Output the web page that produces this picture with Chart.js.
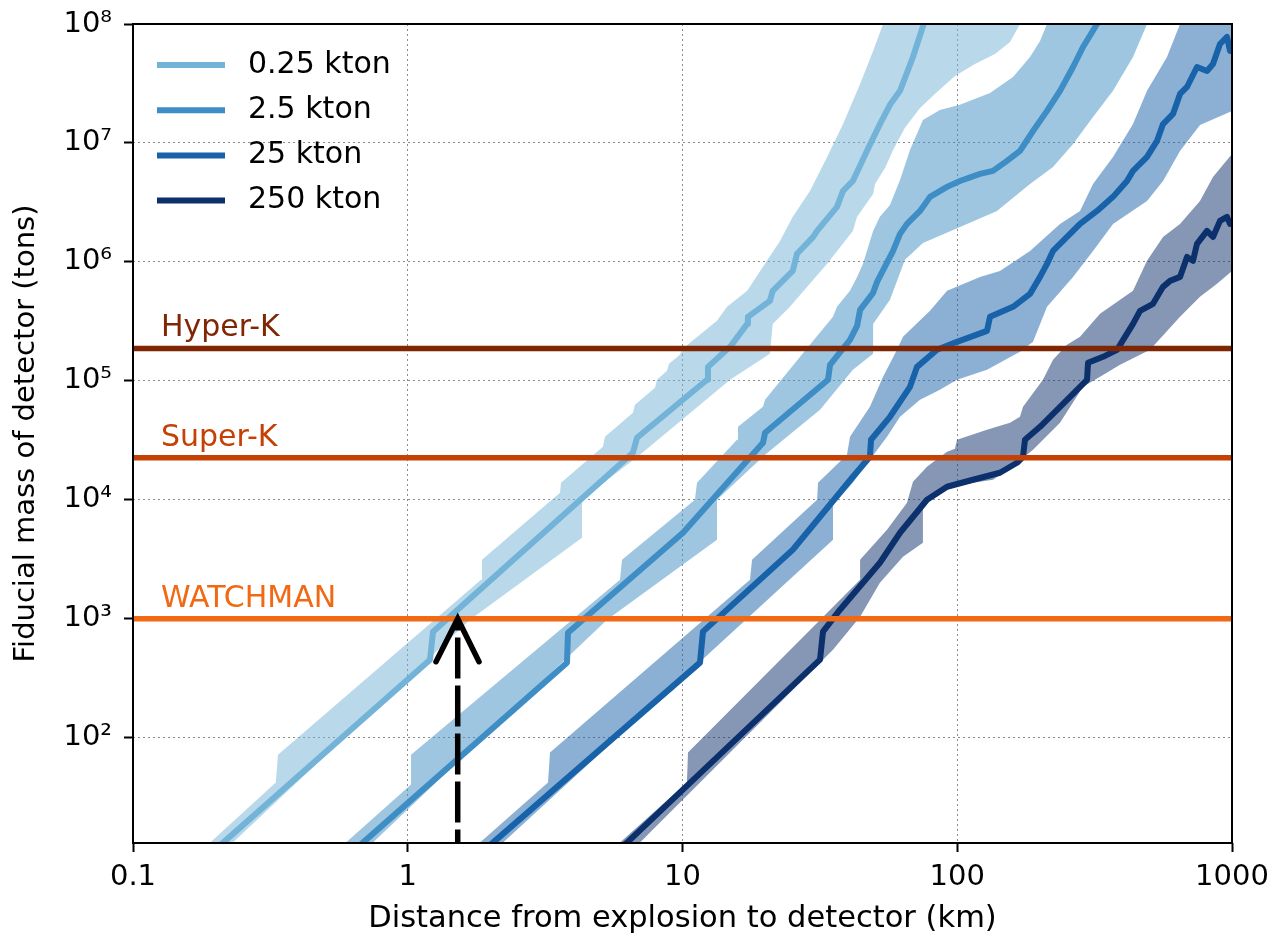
<!DOCTYPE html>
<html><head><meta charset="utf-8">
<script src="https://cdn.jsdelivr.net/npm/chart.js@4.4.1/dist/chart.umd.min.js"></script>
<style>html,body{margin:0;padding:0;background:#fff}canvas{display:block}</style>
</head><body>
<canvas id="c" width="1272" height="937"></canvas>
<script>
// ---------- data ----------
const seriesNames = ['0.25 kton', '2.5 kton', '25 kton', '250 kton'];

// 0.25 kton
const s1LineX = [0.181,0.213,1.205,1.236,6.60,6.83,12.28,12.38,14.9,17.2,17.3,20.8,21.3,25.2,26.1,29.9,30.9,36.5,38.4,41.7,46.9,52.3,56.9,61.9,69.0,76.3,79.6];
const s1LineY = [9.44,13.1,452,778,24800,33200,102000,131000,193000,301000,345000,470000,571000,840000,1.17e6,1.62e6,1.82e6,2.90e6,3.95e6,4.79e6,8.57e6,1.44e7,2.09e7,2.74e7,5.28e7,1.08e8,1.36e8];
const s1HiX = [0.164,0.191,0.331,0.337,1.848,1.863,3.583,3.613,5.135,5.222,6.60,6.716,7.942,8.077,8.782,8.930,9.79,9.96,10.65,13.35,14.52,17.2,19.63,22.64,25.2,29.1,33.6,38.4,44.3,49.4,53.7,55.97];
const s1HiY = [9.44,13.1,41.9,71.9,2127,3132,11450,13900,27890,33840,53830,62850,87350,102000,121300,139000,165400,182200,208600,319300,418500,571000,907800,1.50e6,2.39e6,3.95e6,7.63e6,1.44e7,3.13e7,5.93e7,1e8,1.31e8];
const s1LoX = [0.199,0.231,1.685,4.308,4.308,7.00,14.9,20.8,21.3,24.6,33.6,41.7,43.2,49.4,50.2,54.6,58.4,64.5,73.2,84.4,98.1,116.0,137.2,155.6,169.2,176.4];
const s1LoY = [9.44,13.1,981,4795,10000,23890,102000,168600,301000,418500,962000,1.82e6,2.39e6,3.73e6,4.52e6,6.17e6,8.73e6,1.34e7,1.97e7,2.68e7,3.66e7,4.61e7,5.60e7,7.06e7,1e8,1.31e8];

// 2.5 kton
const s2LineX = [0.586,0.687,3.798,3.830,10.04,19.63,19.97,33.86,34.43,40.70,43.2,44.3,49.4,51.06,58.4,61.9,65.64,73.2,79.6,91.8,102.3,121.0,134.9,151.7,169.2,188.7,212.2,236.6,263.9,286.9,322.7,336.5];
const s2LineY = [9.44,13.1,427,763,5280,30130,36560,102000,136300,221000,289900,395000,548900,679000,1.237e6,1.72e6,2.086e6,2.683e6,3.52e6,4.27e6,4.79e6,5.49e6,5.82e6,7.06e6,8.57e6,1.26e7,1.86e7,2.74e7,4.35e7,6.41e7,1e8,1.19e8];
const s2HiX = [0.508,0.596,1.028,1.028,5.923,6.024,11.10,11.29,15.79,15.92,19.63,19.97,29.9,35.30,36.5,40.7,43.2,45.39,49.4,52.3,56.9,61.9,67.3,75.0,86.5,102.3,131.6,159.6,184.0,200.1,212.2,221.3];
const s2HiY = [9.44,13.1,40.3,71.9,2127,3132,10000,13900,31940,41060,60460,69230,216800,345000,418500,571000,747800,962000,1.82e6,2.39e6,3.01e6,4.89e6,8.73e6,1.56e7,1.89e7,2.09e7,2.63e7,3.59e7,5.28e7,7.20e7,1e8,1.31e8];
const s2LoX = [0.637,0.747,5.311,13.35,13.35,19.97,31.66,41.7,49.4,49.4,56.9,64.5,75.0,104.9,139.5,184.0,223.1,263.9,312.0,368.9,436.2,490.6,502.9];
const s2LoY = [9.44,13.1,981,4612,10000,23890,57050,123700,168600,301000,479300,1.04e6,1.44e6,2.01e6,2.683e6,4.52e6,6.28e6,9.81e6,1.654e7,2.74e7,5.28e7,1e8,1.31e8];

// 25 kton
const s3LineX = [1.742,2.043,11.58,11.87,25.2,31.66,41.7,48.1,48.55,56.9,67.3,71.4,84.4,99.8,128.3,131.6,159.6,184.0,200.1,212.2,223.1,250.9,279.8,322.7,368.9,414.8,436.2,490.6,533.3,561.0,610.0,646.9,685.9,745.7,811.0,852.7,904.3,958.9,983.4,1017];
const s3LineY = [9.44,13.1,427,778,3799,7196,15610,22980,31940,49830,89030,131000,182200,212700,263200,345000,418500,538400,747800,962000,1.237e6,1.62e6,2.086e6,2.683e6,3.52e6,4.79e6,5.82e6,7.63e6,1.04e7,1.44e7,1.752e7,2.58e7,2.955e7,4.35e7,4.03e7,4.61e7,6.79e7,7.78e7,5.93e7,6.05e7];
const s3HiX = [1.562,1.832,3.240,3.294,17.61,17.91,30.9,31.13,39.69,40.7,48.1,53.7,60.36,63.46,79.6,91.8,121.0,143.0,184.0,236.6,279.8,312.0,368.9,436.2,490.6,580.0,646.9,674.5];
const s3HiY = [9.44,13.1,41.9,74.8,2127,3132,10000,13900,23890,33840,60460,108000,182200,234200,387500,571000,747800,840000,1.237e6,2.086e6,2.683e6,4.52e6,7.63e6,1.44e7,2.74e7,5.28e7,1e8,1.31e8];
const s3LoX = [1.895,2.222,35.30,35.30,41.7,48.1,55.5,61.9,73.2,86.5,99.8,128.3,169.2,188.7,212.2,263.9,312.0,368.9,490.6,561.0,646.9,764.7,1000,1163,1163];
const s3LoY = [9.44,13.1,4612,9078,13900,21680,33840,49830,69230,84030,102000,123700,175200,212700,418500,747800,1.237e6,2.086e6,3.255e6,4.79e6,8.57e6,1.417e7,1.86e7,2.09e7,1.44e8];

// 250 kton
const s4LineX = [5.356,6.281,31.66,32.46,37.43,52.3,61.9,77.6,91.8,114.1,143.0,165.0,173.5,176.4,200.1,250.9,296.7,299.2,339.3,381.5,436.2,462.6,515.8,561.0,594.9,646.9,685.9,721.1,745.7,811.0,852.7,904.3,958.9,983.4,1034];
const s4LineY = [9.44,13.1,452,778,1190,2955,5280,10000,12860,14730,16860,20460,22980,31940,41060,69230,102000,141700,159100,182200,301000,387500,443700,616600,692200,747800,1.10e6,1.02e6,1.417e6,1.82e6,1.62e6,2.21e6,2.39e6,2.086e6,2.17e6];
const s4HiX = [5.050,5.923,10.38,10.47,44.3,44.3,55.5,65.64,69.0,77.6,91.8,98.1,99.8,128.3,155.6,169.2,173.5,205.1,223.1,250.9,279.8,330.9,436.2,490.6,561.0,646.9,764.7,852.7,1000,1163];
const s4HiY = [9.44,13.1,41.9,74.8,2127,3132,5596,9436,14170,18940,25310,26830,31940,38750,44370,49830,60460,102000,150200,200700,234200,365600,571000,1.02e6,1.62e6,2.086e6,3.255e6,5.18e6,8.08e6,1.06e7];
const s4LoX = [5.973,7.00,35.30,44.3,52.3,63.46,75.0,75.0,88.74,114.1,134.9,165.0,188.7,236.6,286.9,330.9,391.3,502.9,646.9,764.7,881.9,1000,1163];
const s4LoY = [9.44,13.1,549,1039,2007,3319,4352,8735,12130,13900,14730,20460,26320,44370,89030,108000,136300,182200,345000,508000,653400,840000,1e6];

// reference detectors
const detectorNames = ['Hyper-K', 'Super-K', 'WATCHMAN'];
const detectorMasses = [187000, 22500, 1000];

// arrow (distance where WATCHMAN sees 0.25 kton)
const arrowDistance = 1.52;
const arrowFrom = 7.63;
const arrowTo = 1000;
const arrowHeadX = [1.267, 1.52, 1.817];
const arrowHeadY = [435, 1000, 435];

// axes
const xTicks = [0.1, 1, 10, 100, 1000];
const xTickLabels = ['0.1', '1', '10', '100', '1000'];
const yTicks = [1e2, 1e3, 1e4, 1e5, 1e6, 1e7, 1e8];
const yTickLabels = ['10\u00B2', '10\u00B3', '10\u2074', '10\u2075', '10\u2076', '10\u2077', '10\u2078'];

// ---------- styles ----------
const FONT = 'DejaVu Sans';
const lineColors = ['#74b3d8', '#3e8dc4', '#1862aa', '#0b306b'];
const bandColors = ['rgba(116,179,216,0.5)', 'rgba(62,141,196,0.5)', 'rgba(24,98,170,0.5)', 'rgba(11,48,107,0.5)'];
const detectorColors = ['#7f2704', '#c44103', '#f16913'];

function pts(xs, ys) { return xs.map((x, i) => ({x: x, y: ys[i]})); }
function poly(hx, hy, lx, ly) { return pts(hx, hy).concat(pts(lx, ly).reverse()); }

const series = [
  {line: [s1LineX, s1LineY], hi: [s1HiX, s1HiY], lo: [s1LoX, s1LoY]},
  {line: [s2LineX, s2LineY], hi: [s2HiX, s2HiY], lo: [s2LoX, s2LoY]},
  {line: [s3LineX, s3LineY], hi: [s3HiX, s3HiY], lo: [s3LoX, s3LoY]},
  {line: [s4LineX, s4LineY], hi: [s4HiX, s4HiY], lo: [s4LoX, s4LoY]}
];

const datasets = [];
series.forEach((s, i) => {
  datasets.push({
    label: seriesNames[i] + ' band',
    data: poly(s.hi[0], s.hi[1], s.lo[0], s.lo[1]),
    fill: 'shape', backgroundColor: bandColors[i],
    borderWidth: 0, borderColor: 'rgba(0,0,0,0)', pointRadius: 0, order: 6, clip: 0
  });
  datasets.push({
    label: seriesNames[i],
    data: pts(s.line[0], s.line[1]),
    fill: false, borderColor: lineColors[i], borderWidth: 6,
    borderJoinStyle: 'round', pointRadius: 0, order: 4, clip: 0
  });
});
detectorNames.forEach((n, i) => {
  datasets.push({
    label: n,
    data: [{x: xTicks[0], y: detectorMasses[i]}, {x: xTicks[xTicks.length - 1], y: detectorMasses[i]}],
    fill: false, borderColor: detectorColors[i], borderWidth: 5.5, pointRadius: 0, order: 2, clip: 0
  });
});
datasets.push({
  label: 'arrow',
  data: [{x: arrowDistance, y: arrowFrom}, {x: arrowDistance, y: arrowTo}],
  fill: false, borderColor: '#000', borderWidth: 5.5, borderDash: [41, 7], pointRadius: 0, order: 1, clip: 0
});
datasets.push({
  label: 'arrowhead',
  data: pts(arrowHeadX, arrowHeadY),
  fill: false, borderColor: '#000', borderWidth: 5.5, borderCapStyle: 'round', borderJoinStyle: 'miter',
  pointRadius: 0, order: 0, clip: 0
});

const overlay = {
  id: 'overlay',
  afterDraw(chart) {
    const {ctx, chartArea: a} = chart;
    ctx.save();
    // frame
    ctx.strokeStyle = '#000'; ctx.lineWidth = 2;
    ctx.strokeRect(a.left, a.top, a.right - a.left, a.bottom - a.top);
    // legend
    ctx.font = '30px "' + FONT + '"';
    ctx.textAlign = 'left';
    seriesNames.forEach((n, i) => {
      const y = a.top + 41 + i * 45.2;
      ctx.strokeStyle = lineColors[i]; ctx.lineWidth = 6; ctx.lineCap = 'butt';
      ctx.beginPath(); ctx.moveTo(a.left + 24, y); ctx.lineTo(a.left + 92, y); ctx.stroke();
      ctx.fillStyle = '#000'; ctx.textBaseline = 'middle';
      ctx.fillText(n, a.left + 115, y);
    });
    // detector labels
    ctx.textBaseline = 'alphabetic';
    detectorNames.forEach((n, i) => {
      const y = chart.scales.y.getPixelForValue(detectorMasses[i]);
      ctx.fillStyle = detectorColors[i];
      ctx.fillText(n, a.left + 28, y - 12);
    });
    ctx.restore();
  }
};

new Chart(document.getElementById('c'), {
  type: 'line',
  data: {datasets: datasets},
  options: {
    responsive: false, animation: false, devicePixelRatio: 1, events: [],
    layout: {padding: {left: 0, right: 40, top: 24, bottom: 0}},
    plugins: {legend: {display: false}, tooltip: {enabled: false}},
    scales: {
      x: {
        type: 'logarithmic', position: 'bottom', min: 0.1, max: 1000, z: 1,
        afterBuildTicks: s => { s.ticks = xTicks.map(v => ({value: v})); },
        afterFit: s => { s.height = 94; s.paddingLeft = 0; s.paddingRight = 0; s.paddingTop = 0; s.paddingBottom = 0; },
        ticks: {callback: (v, i) => xTickLabels[i], font: {family: FONT, size: 29}, color: '#000',
                padding: 8, maxRotation: 0, minRotation: 0, autoSkip: false},
        grid: {color: '#8c8c8c', lineWidth: 1, tickColor: '#000', tickLength: 9, tickWidth: 2},
        border: {display: false, dash: [2, 3]},
        title: {display: true, text: 'Distance from explosion to detector (km)', color: '#000',
                font: {family: FONT, size: 30.5}, padding: {top: 0, bottom: 0}}
      },
      y: {
        type: 'logarithmic', position: 'left', min: 13, max: 1e8, z: 1,
        afterBuildTicks: s => { s.ticks = yTicks.map(v => ({value: v})); },
        afterFit: s => { s.width = 133; s.paddingLeft = 0; s.paddingRight = 0; s.paddingTop = 0; s.paddingBottom = 0; },
        ticks: {callback: (v, i) => yTickLabels[i], font: {family: FONT, size: 29}, color: '#000',
                padding: 12, autoSkip: false},
        grid: {color: '#8c8c8c', lineWidth: 1, tickColor: '#000', tickLength: 9, tickWidth: 2},
        border: {display: false, dash: [2, 3]},
        title: {display: true, text: 'Fiducial mass of detector (tons)', color: '#000',
                font: {family: FONT, size: 29}, padding: {top: 9, bottom: 0}}
      }
    }
  },
  plugins: [overlay]
});
</script>
</body></html>
